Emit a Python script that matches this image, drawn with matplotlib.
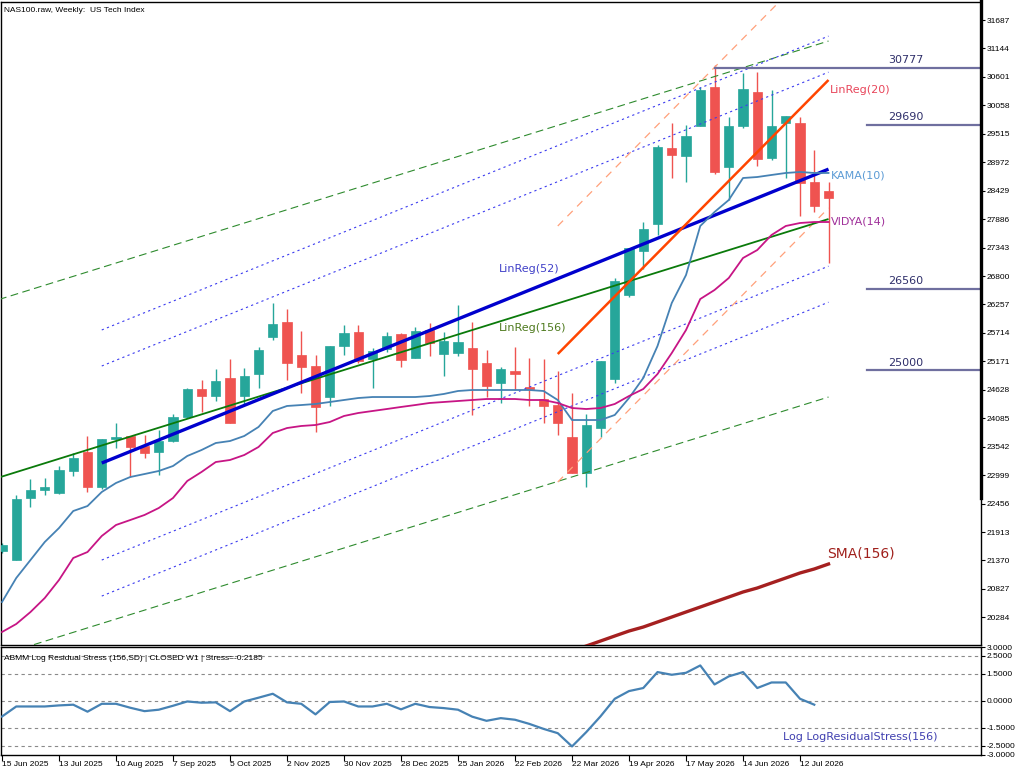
import matplotlib
matplotlib.use("Agg")
import matplotlib.pyplot as plt
from matplotlib.lines import Line2D

# NAS100 weekly candles (index 0 = week of 15 Jun 2025)
opens = [21550, 21379, 22562, 22715, 22658, 23078, 23440, 22772, 23688, 23746,
         23555, 23440, 23650, 24108, 24643, 24509, 24853, 24509, 24929, 25636,
         25922, 25292, 25082, 24490, 25464, 25731, 25216, 25407, 25694, 25235,
         25769, 25311, 25330, 25426, 25140, 24757, 24987, 24681, 24452, 24337,
         23727, 23040, 23898, 24834, 26437, 27277, 27793, 29244, 29091, 29664,
         30408, 28881, 29664, 30313, 29053, 29721, 29721, 28595, 28425]
highs = [21700, 22619, 22925, 22944, 23173, 23421, 23746, 23688, 23994, 23746,
         23765, 23860, 24166, 24662, 24815, 25025, 25216, 25044, 25445, 26285,
         26170, 25750, 25292, 25464, 25865, 25865, 25426, 25731, 25713, 25827,
         25903, 25731, 26247, 25922, 25387, 25063, 25445, 25235, 25216, 24987,
         24567, 24166, 25177, 26762, 27335, 27831, 29301, 29721, 29683, 30408,
         30828, 29835, 30675, 30694, 30351, 29854, 29835, 29205, 28595]
lows = [21512, 21379, 22390, 22619, 22639, 22982, 22677, 22734, 23517, 22963,
        23326, 23001, 23631, 24089, 24204, 24414, 23994, 24337, 24662, 25578,
        24815, 24567, 23822, 24319, 25292, 25140, 24662, 25349, 25063, 25235,
        25273, 24891, 25273, 24147, 24490, 24376, 24624, 24319, 23994, 23765,
        23040, 22772, 23727, 24758, 26399, 26934, 27583, 28671, 28595, 29664,
        28747, 28251, 29625, 28900, 29015, 28671, 27944, 28021, 27048]
closes = [21665, 22543, 22715, 22772, 23097, 23326, 22772, 23688, 23727, 23536,
          23421, 23650, 24108, 24643, 24509, 24796, 23994, 24891, 25387, 25884,
          25140, 25063, 24300, 25464, 25712, 25177, 25368, 25655, 25197, 25750,
          25521, 25559, 25540, 25025, 24700, 25025, 24929, 24643, 24319, 23994,
          23040, 23956, 25177, 26705, 27335, 27697, 29263, 29110, 29473, 30351,
          28786, 29664, 30370, 29034, 29664, 29854, 28576, 28137, 28291]

kama = [20577, 21035, 21379, 21722, 21989, 22314, 22409, 22677, 22849, 22963,
        23020, 23078, 23173, 23364, 23478, 23612, 23650, 23746, 23918, 24223,
        24319, 24337, 24357, 24395, 24433, 24471, 24490, 24490, 24490, 24490,
        24509, 24548, 24605, 24624, 24624, 24624, 24624, 24624, 24605, 24433,
        24051, 24051, 24051, 24147, 24471, 24853, 25464, 26285, 26819, 27755,
        28022, 28251, 28671, 28690, 28729, 28767, 28786, 28767, 28767]
vidya = [20004, 20157, 20386, 20653, 20997, 21417, 21531, 21837, 22047, 22142,
         22238, 22371, 22562, 22887, 23059, 23249, 23288, 23383, 23536, 23803,
         23898, 23937, 23956, 24013, 24128, 24185, 24223, 24261, 24300, 24337,
         24376, 24395, 24414, 24433, 24452, 24452, 24452, 24433, 24433, 24376,
         24280, 24261, 24280, 24357, 24509, 24643, 24929, 25330, 25769, 26361,
         26533, 26762, 27144, 27296, 27583, 27755, 27812, 27831, 27831]

sma_start = 38
sma156 = [19451, 19546, 19642, 19737, 19832, 19928, 20023, 20099, 20195, 20290,
          20386, 20481, 20577, 20672, 20768, 20844, 20940, 21035, 21131, 21207, 21302]

# regression lines: (first index, last index), (first value, last value), channel offsets
lr20_idx, lr20_val, lr20_band = (39, 58), (25311, 30542), [2444]
lr52_idx, lr52_val, lr52_band = (7, 58), (23230, 28840), [1852, 2540]
lr156_idx, lr156_val, lr156_band = (-1, 58), (22887, 27888), [3398]

levels = [30777, 29690, 26560, 25000]
level_from = [50, 60.7, 60.7, 60.7]

stress = [-0.88, -0.32, -0.32, -0.32, -0.26, -0.22, -0.61, -0.17, -0.17, -0.39,
          -0.58, -0.50, -0.28, -0.04, -0.11, -0.09, -0.58, -0.04, 0.17, 0.39,
          -0.09, -0.17, -0.76, -0.07, -0.04, -0.32, -0.32, -0.17, -0.48, -0.17,
          -0.35, -0.41, -0.50, -0.89, -1.12, -0.97, -1.06, -1.29, -1.57, -1.81,
          -2.55, -1.75, -0.87, 0.11, 0.54, 0.71, 1.60, 1.45, 1.56, 1.97,
          0.91, 1.36, 1.60, 0.71, 1.02, 1.02, 0.11, -0.22]

price_ticks = [20284, 20827, 21370, 21913, 22456, 22999, 23542, 24085, 24628, 25171,
               25714, 26257, 26800, 27343, 27886, 28429, 28972, 29515, 30058, 30601,
               31144, 31687]
stress_ticks = [3.0, 2.5, 1.5, 0.0, -1.5, -2.5, -3.0]
stress_grid = [2.5, 1.5, 0.0, -1.5, -2.5]
date_pos = [0, 4, 8, 12, 16, 20, 24, 28, 32, 36, 40, 44, 48, 52, 56]
date_labels = ["15 Jun 2025", "13 Jul 2025", "10 Aug 2025", "7 Sep 2025", "5 Oct 2025",
               "2 Nov 2025", "30 Nov 2025", "28 Dec 2025", "25 Jan 2026", "22 Feb 2026",
               "22 Mar 2026", "19 Apr 2026", "17 May 2026", "14 Jun 2026", "12 Jul 2026"]

W, H = 1024, 773
small = dict(fontfamily="Liberation Sans", fontsize=6)

fig = plt.figure(figsize=(W / 100, H / 100), dpi=100)
ax = fig.add_axes([1 / W, 1 - 645 / H, 980 / W, 643 / H])
ax2 = fig.add_axes([1 / W, 1 - 754.5 / H, 980 / W, 107.5 / H])

xmin, xmax = -0.07, 68.7
bull, bear = "#26a69a", "#ef5350"

# candles
n = len(opens)
xs = list(range(n))
cols = [bull if c >= o else bear for o, c in zip(opens, closes)]
ax.vlines(xs, lows, highs, colors=cols, lw=1, zorder=2)
ax.bar(xs, [max(abs(c - o), 15) for o, c in zip(opens, closes)],
       bottom=[min(o, c) for o, c in zip(opens, closes)],
       width=0.66, color=cols, edgecolor=cols, lw=0.5, zorder=3)


def reg(idx, val, band, color, lw, bcolor, dashes, blw):
    ax.plot(idx, val, color=color, lw=lw, zorder=5, solid_capstyle="butt")
    for b in band:
        for s in (1, -1):
            ax.plot(idx, [v + s * b for v in val], color=bcolor, lw=blw,
                    dashes=dashes, zorder=4)


reg(lr156_idx, lr156_val, lr156_band, "#0a7a0a", 1.3, "#2e8b2e", (7, 4), 0.8)
reg(lr52_idx, lr52_val, lr52_band, "#0000cd", 2.4, "#3c3cf0", (2, 3), 0.8)
reg(lr20_idx, lr20_val, lr20_band, "#ff4500", 1.8, "#ffa07a", (6, 5), 0.9)

ax.plot(xs, kama, color="#4682b4", lw=1.3, zorder=6)
ax.plot(xs, vidya, color="#c71585", lw=1.3, zorder=6)
ax.plot(range(sma_start, sma_start + len(sma156)), sma156, color="#a52020", lw=2.4, zorder=6)

for lv, x0 in zip(levels, level_from):
    ax.plot([x0, xmax], [lv, lv], color="#6f6f9f", lw=1.6, zorder=6)
    ax.annotate(str(lv), (63.4, lv), xytext=(0, 2), textcoords="offset points",
                ha="center", va="bottom", fontsize=8, color="#2f2f6a")

ax.text(58.1, 30351, "LinReg(20)", color="#e8455a", fontsize=8, va="center")
ax.text(58.2, 28728, "KAMA(10)", color="#5b9bd5", fontsize=8, va="center")
ax.text(58.2, 27850, "VIDYA(14)", color="#a0309a", fontsize=8, va="center")
ax.text(34.9, 26934, "LinReg(52)", color="#4040c8", fontsize=8, va="center")
ax.text(34.9, 25808, "LinReg(156)", color="#4e7a1e", fontsize=8, va="center")
ax.text(57.9, 21512, "SMA(156)", color="#a0201c", fontsize=10, va="center")
ax.text(0.003, 0.993, "NAS100.raw, Weekly:  US Tech Index", transform=ax.transAxes,
        va="top", ha="left", **small)

ax.set_xlim(xmin, xmax)
ax.set_ylim(19756, 32031)
ax.set_yticks(price_ticks)
ax.set_yticklabels([str(t) for t in price_ticks], **small)
ax.yaxis.tick_right()
ax.tick_params(axis="y", length=3, width=0.8, pad=1)
ax.set_xticks([])

# stress panel
ax2.plot(range(len(stress)), stress, color="#4682b4", lw=1.6, zorder=3)
for g in stress_grid:
    ax2.axhline(g, color="#8a8a8a", lw=0.8, dashes=(3, 3), zorder=1)
ax2.text(0.003, 0.93, "ABMM Log Residual Stress (156,SD) | CLOSED W1 | Stress=-0.2185",
         transform=ax2.transAxes, va="top", ha="left", **small)
ax2.text(54.8, -2.0, "Log LogResidualStress(156)", color="#4040b0", fontsize=8, va="center")
ax2.set_xlim(xmin, xmax)
ax2.set_ylim(-3.0, 3.0)
ax2.set_yticks(stress_ticks)
ax2.set_yticklabels(["%.4f" % t for t in stress_ticks], **small)
ax2.yaxis.tick_right()
ax2.tick_params(axis="y", length=3, width=0.8, pad=1)
ax2.set_xticks(date_pos)
ax2.set_xticklabels(date_labels, ha="left", **small)
ax2.tick_params(axis="x", length=4, width=0.8, pad=1)

for a in (ax, ax2):
    for s in a.spines.values():
        s.set_color("black")
        s.set_linewidth(1)

# heavy right edge of the price scale
fig.add_artist(Line2D([981 / W, 981 / W], [1, 1 - 498 / H], transform=fig.transFigure,
                      color="black", lw=2.4))

fig.savefig("out.png", dpi=100, facecolor="white")
